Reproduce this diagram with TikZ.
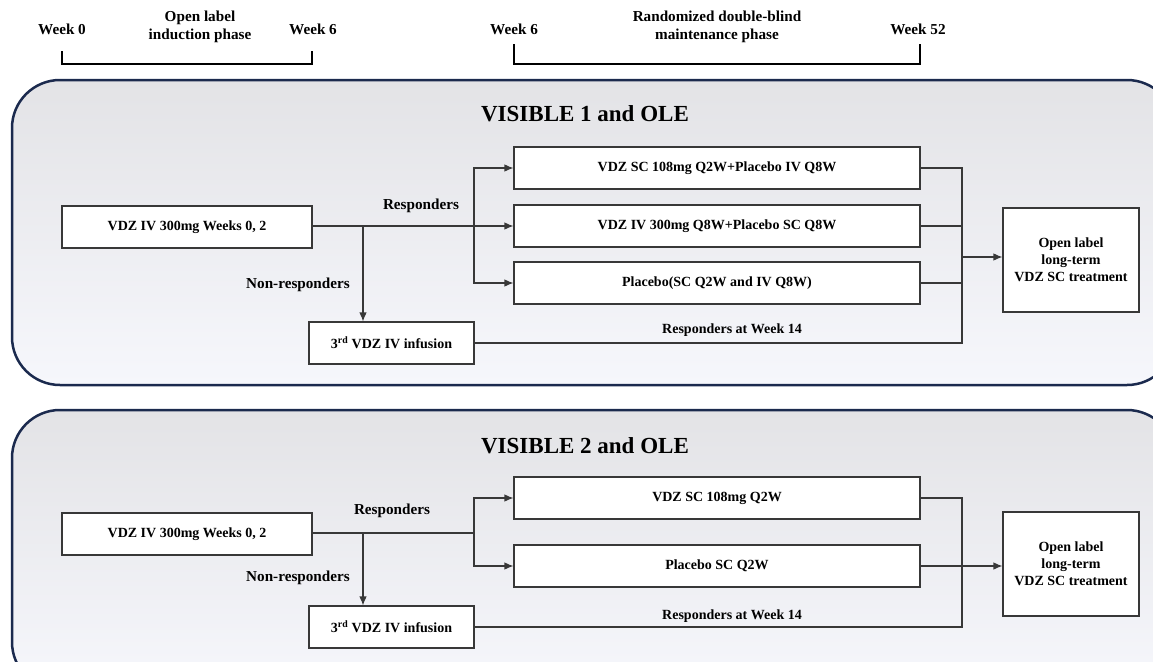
\documentclass[tikz,border=0pt]{standalone}
\usepackage{fontspec}
\setmainfont{Liberation Serif}
\usetikzlibrary{arrows.meta}
\definecolor{panelline}{HTML}{1B2A4E}
\definecolor{paneltop}{HTML}{E3E3E6}
\definecolor{panelbot}{HTML}{F6F7FC}
\definecolor{boxline}{HTML}{383838}
\tikzset{
box/.style={draw=boxline, fill=white, line width=1.1pt, font=\bfseries\fontsize{14}{17}\selectfont, align=center, inner sep=0pt},
conn/.style={draw=boxline, line width=1.1pt},
tip/.style={-{Latex[length=9pt,width=7.5pt]}},
lbl/.style={font=\bfseries\fontsize{15.2}{18}\selectfont, align=center, inner sep=0pt},
smalllbl/.style={font=\bfseries\fontsize{14}{17}\selectfont, inner sep=0pt},
title/.style={font=\bfseries\fontsize{23}{27}\selectfont, inner sep=0pt}
}
\newcommand{\drawpanel}[2]{%
\path[draw=panelline, line width=2.5pt, rounded corners=48pt, top color=paneltop, bottom color=panelbot] (12,#1) rectangle (1175,#2);
}
\newcommand{\boxat}[6]{%
\node[box, minimum width=#4, minimum height=#5] (#1) at (#2,#3) {#6};
}
\newcommand{\labelat}[4]{%
\node[lbl] (#1) at (#2,#3) {#4};
}

\begin{document}
\begin{tikzpicture}[x=1pt,y=-1pt]
\useasboundingbox (0,0) rectangle (1153,661);

% phases on top
\labelat{wkzero}{62}{29}{Week 0}
\labelat{induction}{200}{27}{Open label\\induction phase}
\labelat{wksix}{313}{29}{Week 6}
\labelat{wksixb}{514}{29}{Week 6}
\labelat{maintenance}{717}{27}{Randomized double-blind\\maintenance phase}
\labelat{wkfiftytwo}{918}{29}{Week 52}

\draw[line width=1.5pt, line cap=rect] (62,52) |- (312,64) -- (312,52);
\draw[line width=2.2pt, line cap=rect] (514,45) |- (920,64) -- (920,45);


% VISIBLE 1
\drawpanel{80}{385}
\node[title] (titleone) at (585,114) {VISIBLE 1 and OLE};

\boxat{indone}{187}{227}{250}{42}{VDZ IV 300mg Weeks 0, 2}
\boxat{armonea}{717}{168}{406}{42}{VDZ SC 108mg Q2W+Placebo IV Q8W}
\boxat{armoneb}{717}{226}{406}{42}{VDZ IV 300mg Q8W+Placebo SC Q8W}
\boxat{armonec}{717}{283}{406}{42}{Placebo(SC Q2W and IV Q8W)}
\boxat{infone}{391.5}{343}{165}{42}{3\textsuperscript{rd} VDZ IV infusion}
\boxat{oleone}{1071}{260}{136}{104}{Open label\\long-term\\VDZ SC treatment}

\coordinate (jone) at (363,226);
\coordinate (bone) at (474,226);
\coordinate (mone) at (962,257);

\draw[conn, tip] (indone.east |- bone) -- (armoneb.west);
\draw[conn, tip] (jone) -- (jone |- infone.north);
\draw[conn, tip] (bone) |- (armonea.west);
\draw[conn, tip] (bone) |- (armonec.west);
\draw[conn] (armonea.east) -| (mone) |- (infone.east);
\draw[conn] (armoneb.east) -- (armoneb.east -| mone);
\draw[conn] (armonec.east) -- (armonec.east -| mone);
\draw[conn, tip] (mone) -- (mone -| oleone.west);

\labelat{respone}{421}{206}{Responders}
\labelat{nonrespone}{298}{285}{Non-responders}
\node[smalllbl] (weekone) at (732,330) {Responders at Week 14};


% VISIBLE 2
\drawpanel{410}{690}
\node[title] (titletwo) at (585,446) {VISIBLE 2 and OLE};

\boxat{indtwo}{187}{534}{250}{42}{VDZ IV 300mg Weeks 0, 2}
\boxat{armtwoa}{717}{498}{406}{42}{VDZ SC 108mg Q2W}
\boxat{armtwob}{717}{566}{406}{42}{Placebo SC Q2W}
\boxat{inftwo}{391.5}{627}{165}{42}{3\textsuperscript{rd} VDZ IV infusion}
\boxat{oletwo}{1071}{564}{136}{104}{Open label\\long-term\\VDZ SC treatment}

\coordinate (jtwo) at (363,533);
\coordinate (btwo) at (474,533);
\coordinate (mtwo) at (962,566);

\draw[conn] (indtwo.east |- btwo) -- (btwo);
\draw[conn, tip] (jtwo) -- (jtwo |- inftwo.north);
\draw[conn, tip] (btwo) |- (armtwoa.west);
\draw[conn, tip] (btwo) |- (armtwob.west);
\draw[conn] (armtwoa.east) -| (mtwo) |- (inftwo.east);
\draw[conn, tip] (armtwob.east) -- (armtwob.east -| oletwo.west);

\labelat{resptwo}{392}{511}{Responders}
\labelat{nonresptwo}{298}{578}{Non-responders}
\node[smalllbl] (weektwo) at (732,616) {Responders at Week 14};

\end{tikzpicture}
\end{document}
